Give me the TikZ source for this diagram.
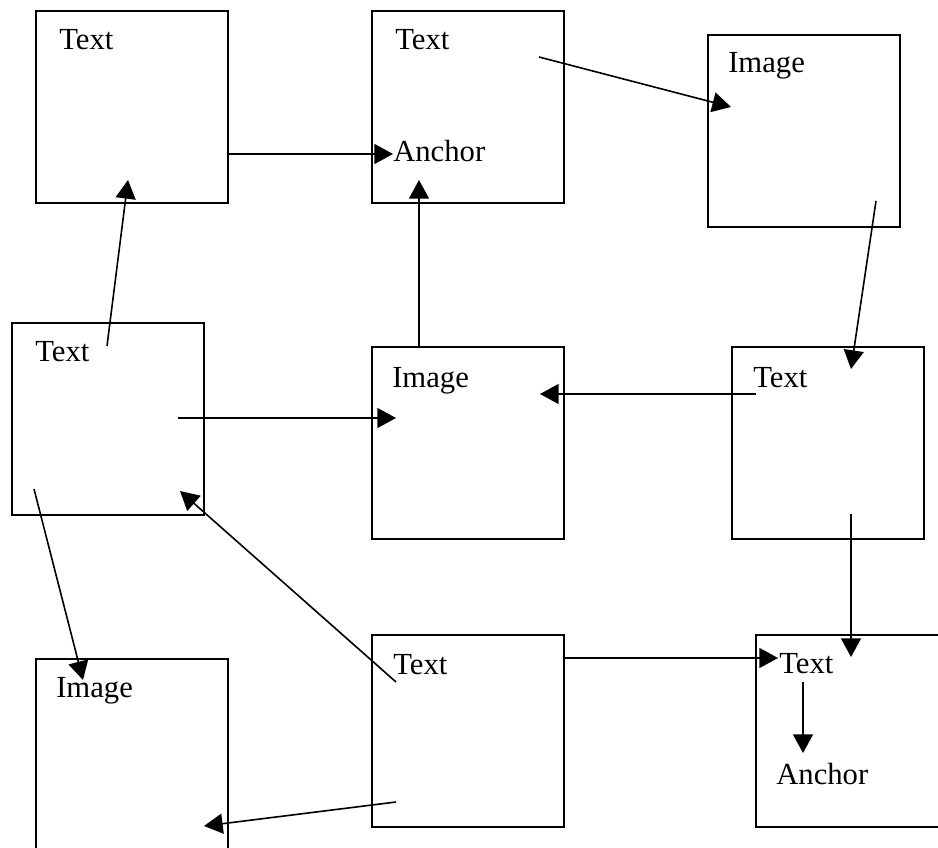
\documentclass[tikz,border=0pt]{standalone}
\usepackage{fontspec}
\setmainfont{Liberation Serif}
\usetikzlibrary{arrows.meta}
\tikzset{
  box/.style={draw, line width=1.5pt, minimum width=144pt, minimum height=144pt, anchor=north west, inner sep=0pt},
  lbl/.style={anchor=base west, inner sep=0pt, font=\fontsize{23}{27}\selectfont},
  link/.style={line width=1.2pt, -{Triangle[length=14pt,width=15pt]}}
}
\begin{document}
\begin{tikzpicture}[x=0.75pt,y=-0.75pt]
    \useasboundingbox (0,0) rectangle (938,848);
    % the nine frames
    \node[box] (boxA) at (35,10) {};
    \node[box] (boxB) at (371,10) {};
    \node[box] (boxC) at (707,34) {};
    \node[box] (boxD) at (11,322) {};
    \node[box] (boxE) at (371,346) {};
    \node[box] (boxF) at (731,346) {};
    \node[box] (boxG) at (35,658) {};
    \node[box] (boxH) at (371,634) {};
    \node[box] (boxI) at (755,634) {};
    % labels
    \node[lbl] (lblA) at (59,50) {Text};
    \node[lbl] (lblB) at (395,50) {Text};
    \node[lbl] (ancB) at (393,162) {Anchor};
    \node[lbl] (lblC) at (728,73) {Image};
    \node[lbl] (lblD) at (35,362) {Text};
    \node[lbl] (lblE) at (392,387) {Image};
    \node[lbl] (lblF) at (753,387) {Text};
    \node[lbl] (lblG) at (56,697) {Image};
    \node[lbl] (lblH) at (393,674) {Text};
    \node[lbl] (lblI) at (779,673) {Text};
    \node[lbl] (ancI) at (776,784) {Anchor};
    % ends of the links
    \coordinate (pA1) at (227,154);  \coordinate (pB1) at (393,154);
    \coordinate (pD1) at (107,346);  \coordinate (pA2) at (128,180);
    \coordinate (pE1) at (419,346);  \coordinate (pB2) at (419,180);
    \coordinate (pB3) at (539,57);   \coordinate (pC1) at (731,107);
    \coordinate (pC2) at (876,201);  \coordinate (pF1) at (851,369);
    \coordinate (pF2) at (756,394);  \coordinate (pE2) at (540,394);
    \coordinate (pD2) at (178,418);  \coordinate (pE3) at (396,418);
    \coordinate (pH1) at (396,682);  \coordinate (pD3) at (180,491);
    \coordinate (pD4) at (34,489);   \coordinate (pG1) at (83,680);
    \coordinate (pF3) at (851,514);  \coordinate (pI1) at (851,657);
    \coordinate (pH2) at (563,658);  \coordinate (pI2) at (778,658);
    \coordinate (pI3) at (803,682);  \coordinate (pI4) at (803,753);
    \coordinate (pH3) at (396,802);  \coordinate (pG2) at (204,826);
    % links
    \draw[link] (pA1) -- (pB1);
    \draw[link] (pD1) -- (pA2);
    \draw[link] (pE1) -- (pB2);
    \draw[link] (pB3) -- (pC1);
    \draw[link] (pC2) -- (pF1);
    \draw[link] (pF2) -- (pE2);
    \draw[link] (pD2) -- (pE3);
    \draw[link] (pH1) -- (pD3);
    \draw[link] (pD4) -- (pG1);
    \draw[link] (pF3) -- (pI1);
    \draw[link] (pH2) -- (pI2);
    \draw[link] (pI3) -- (pI4);
    \draw[link] (pH3) -- (pG2);
\end{tikzpicture}
\end{document}
